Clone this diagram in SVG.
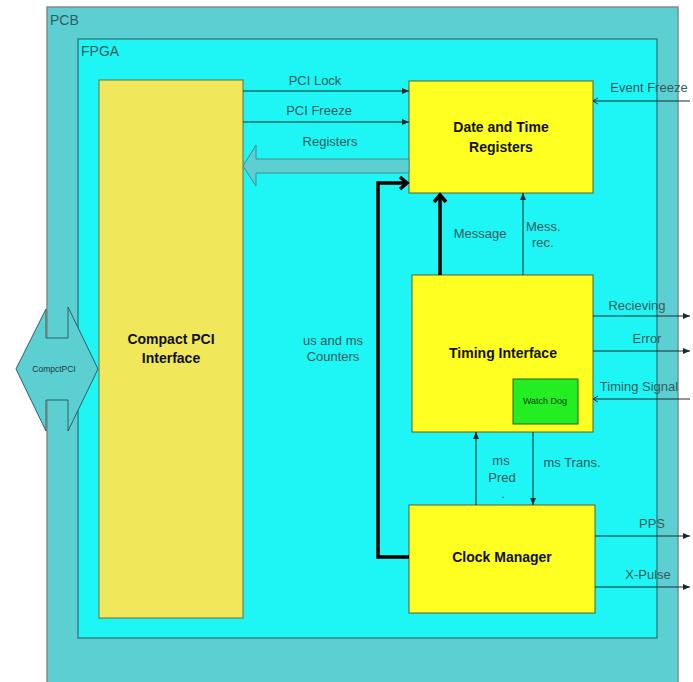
<svg xmlns="http://www.w3.org/2000/svg" width="693" height="682" viewBox="0 0 693 682">
<defs>
<marker id="tri" markerWidth="8" markerHeight="8" refX="7" refY="4" orient="auto" markerUnits="userSpaceOnUse">
<path d="M0,1 L7,4 L0,7 Z" fill="#1a2a2a"/>
</marker>
<marker id="open" markerWidth="8" markerHeight="8" refX="6" refY="4" orient="auto" markerUnits="userSpaceOnUse">
<path d="M1,1 L6,4 L1,7" fill="none" stroke="#1a2a2a" stroke-width="1"/>
</marker>
<marker id="thick" markerWidth="16" markerHeight="16" refX="11" refY="8" orient="auto" markerUnits="userSpaceOnUse">
<path d="M4,2 L11,8 L4,14" fill="none" stroke="#000" stroke-width="3.5"/>
</marker>
</defs>
<style>
.lbl{font-family:"Liberation Sans",Arial,sans-serif;font-size:13px;fill:#355c5c}
.box{font-family:"Liberation Sans",Arial,sans-serif;font-size:14px;font-weight:bold;fill:#111}
.thin{fill:none;stroke:#1a2a2a;stroke-width:1}
.fat{fill:none;stroke:#000;stroke-width:3.5}
</style>
<g id="pcb">
<rect x="47" y="7" width="631" height="690" fill="#5ccfd3" stroke="#888" stroke-width="1.5"/>
<text x="50" y="25" class="lbl" style="font-size:14px">PCB</text>
</g>
<g id="fpga">
<rect x="78" y="39" width="579" height="599" fill="#1ef5f5" stroke="#2e6e6e" stroke-width="1.2"/>
<text x="81" y="56" class="lbl" style="font-size:14px">FPGA</text>
</g>
<g id="compactpci-connector">
<polygon points="16,369 46,309 46,338 68,338 68,307 98,369 68,431 68,400 46,400 46,431" fill="#5ccfd3" stroke="#2e6060" stroke-width="1"/>
<text x="54" y="372" text-anchor="middle" class="lbl" style="font-size:8.5px;fill:#1e3a3a">CompctPCI</text>
</g>
<g id="compact-pci">
<rect x="99" y="80" width="144" height="538" fill="#f0e85a" stroke="#6e6e3a" stroke-width="1"/>
<text x="171" y="344" text-anchor="middle" class="box">Compact PCI</text>
<text x="171" y="363" text-anchor="middle" class="box">Interface</text>
</g>
<g id="date-time">
<rect x="409" y="81" width="184" height="112" fill="#ffff22" stroke="#5e5e2e" stroke-width="1"/>
<text x="501" y="132" text-anchor="middle" class="box">Date and Time</text>
<text x="501" y="152" text-anchor="middle" class="box">Registers</text>
</g>
<g id="timing-interface">
<rect x="412" y="275" width="181" height="157" fill="#ffff22" stroke="#5e5e2e" stroke-width="1"/>
<text x="503" y="358" text-anchor="middle" class="box">Timing Interface</text>
</g>
<g id="watch-dog">
<rect x="513" y="379" width="65" height="45" fill="#22ee22" stroke="#2e5e2e" stroke-width="1"/>
<text x="545" y="404" text-anchor="middle" style="font-family:'Liberation Sans',Arial,sans-serif;font-size:9px;fill:#1a3a1a">Watch Dog</text>
</g>
<g id="clock-manager">
<rect x="409" y="505" width="186" height="108" fill="#ffff22" stroke="#5e5e2e" stroke-width="1"/>
<text x="502" y="562" text-anchor="middle" class="box">Clock Manager</text>
</g>
<g id="connectors">
<line x1="243" y1="91" x2="409" y2="91" class="thin" marker-end="url(#tri)"/>
<line x1="243" y1="122" x2="409" y2="122" class="thin" marker-end="url(#tri)"/>
<polygon points="409,159 256,159 256,145 243,166 256,186 256,173 409,173" fill="#5ccfd3" stroke="#3e8e8e" stroke-width="1"/>
<line x1="690" y1="101" x2="593" y2="101" class="thin" marker-end="url(#open)"/>
<polyline points="409,557 378,557 378,183 407,183" class="fat" marker-end="url(#thick)"/>
<line x1="440" y1="275" x2="440" y2="195" class="fat" marker-end="url(#thick)"/>
<line x1="523" y1="275" x2="523" y2="193" class="thin" marker-end="url(#tri)"/>
<line x1="593" y1="316" x2="690" y2="316" class="thin" marker-end="url(#tri)"/>
<line x1="593" y1="351" x2="690" y2="351" class="thin" marker-end="url(#tri)"/>
<line x1="690" y1="399" x2="593" y2="399" class="thin" marker-end="url(#open)"/>
<line x1="476" y1="505" x2="476" y2="432" class="thin" marker-end="url(#tri)"/>
<line x1="533" y1="432" x2="533" y2="505" class="thin" marker-end="url(#tri)"/>
<line x1="595" y1="536" x2="690" y2="536" class="thin" marker-end="url(#tri)"/>
<line x1="595" y1="587" x2="690" y2="587" class="thin" marker-end="url(#tri)"/>
</g>
<g id="labels">
<text x="315" y="85" text-anchor="middle" class="lbl">PCI Lock</text>
<text x="319" y="115" text-anchor="middle" class="lbl">PCI Freeze</text>
<text x="330" y="146" text-anchor="middle" class="lbl">Registers</text>
<text x="649" y="92" text-anchor="middle" class="lbl">Event Freeze</text>
<text x="333" y="345" text-anchor="middle" class="lbl">us and ms</text>
<text x="333" y="361" text-anchor="middle" class="lbl">Counters</text>
<text x="480" y="238" text-anchor="middle" class="lbl">Message</text>
<text x="526" y="231" class="lbl">Mess.</text>
<text x="532" y="247" class="lbl">rec.</text>
<text x="637" y="310" text-anchor="middle" class="lbl">Recieving</text>
<text x="647" y="343" text-anchor="middle" class="lbl">Error</text>
<text x="639" y="391" text-anchor="middle" class="lbl">Timing Signal</text>
<text x="501" y="465" text-anchor="middle" class="lbl">ms</text>
<text x="502" y="482" text-anchor="middle" class="lbl">Pred</text>
<text x="503" y="498" text-anchor="middle" class="lbl">.</text>
<text x="572" y="467" text-anchor="middle" class="lbl">ms Trans.</text>
<text x="652" y="528" text-anchor="middle" class="lbl">PPS</text>
<text x="648" y="579" text-anchor="middle" class="lbl">X-Pulse</text>
</g>
</svg>
